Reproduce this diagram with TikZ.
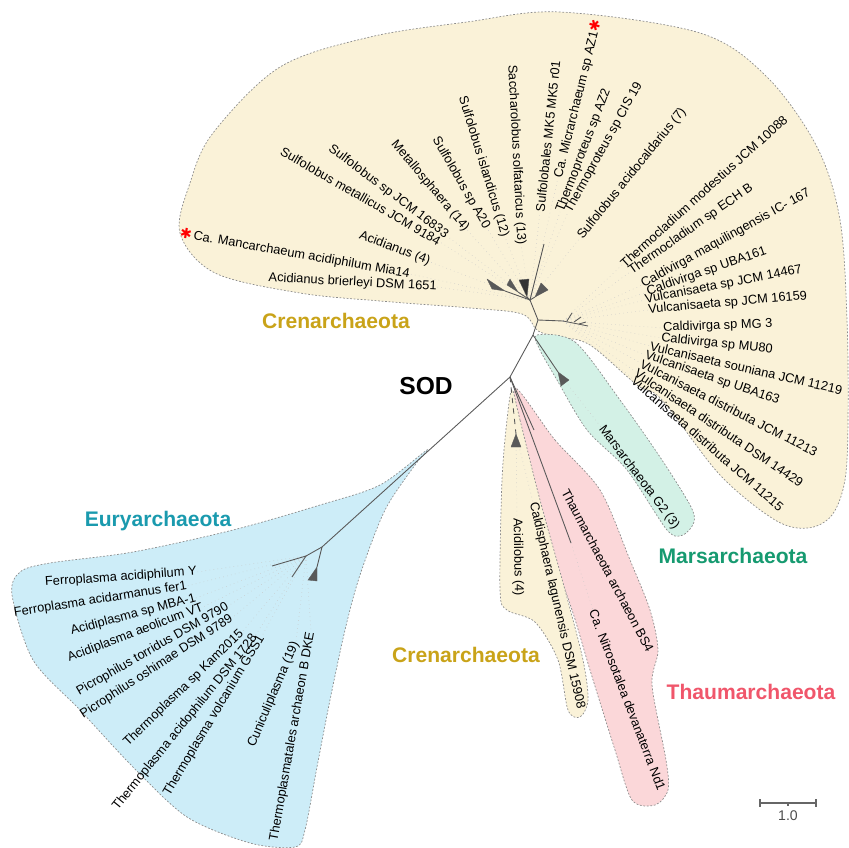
\documentclass[tikz,border=0pt]{standalone}
\usepackage{fontspec}
\setmainfont{Liberation Sans}
\newfontfamily\starfont{DejaVu Sans}
\usepackage{xcolor}
\usetikzlibrary{positioning}

\definecolor{creFill}{HTML}{FAF2D8}
\definecolor{marsFill}{HTML}{D3F1E6}
\definecolor{thaFill}{HTML}{FBD7D9}
\definecolor{euFill}{HTML}{CDEDF8}
\definecolor{creCol}{HTML}{C9A319}
\definecolor{euCol}{HTML}{1A9AAE}
\definecolor{marsCol}{HTML}{169A70}
\definecolor{thaCol}{HTML}{F0566B}
\newcommand{\redstar}{\textcolor{red}{\starfont\fontsize{8}{8}\selectfont ✱}}

\begin{document}
\begin{tikzpicture}[x=0.02cm, y=-0.02cm,
	leaf/.style={font=\fontsize{7.3}{8}\selectfont, inner sep=0pt},
	leafL/.style={leaf, anchor=east},
	leafR/.style={leaf, anchor=west},
	phylum/.style={font=\fontsize{12}{14}\selectfont\bfseries, inner sep=1pt},
	branch/.style={draw=black!65, line width=0.5pt},
	leafline/.style={draw=black!22, line width=0.3pt, dotted},
	clps/.style={fill=black!65, draw=black!65, line width=0.2pt, line join=round},
	region/.style={draw=black!45, line width=0.4pt, dash pattern=on 1pt off 1pt}
]
\useasboundingbox (0,0) rectangle (849,848);

% clade backgrounds
\filldraw[region, fill=creFill] plot[smooth cycle, tension=0.55] coordinates {
	(180,233) (190,183) (213,133) (280,67) (370,37) (467,22) (560,12)
	(700,33) (767,77) (817,147) (840,220) (847,320) (848,420) (845,480)
	(832,515) (808,528) (775,520) (720,475) (662,400) (637,385) (590,345)
	(560,337) (538,331) (522,314) (470,308) (380,301) (300,293) (215,273)};
\filldraw[region, fill=marsFill] plot[smooth cycle, tension=0.5] coordinates {
	(537,335) (575,342) (620,400) (660,457) (690,505) (694,522) (683,535)
	(667,530) (627,470) (587,430) (557,380) (540,350)};
\filldraw[region, fill=thaFill] plot[smooth cycle, tension=0.5] coordinates {
	(515,388) (555,440) (600,490) (630,560) (650,610) (658,650) (652,685)
	(666,760) (668,790) (655,805) (632,800) (615,750) (590,670) (573,613)
	(548,540) (525,450)};
\filldraw[region, fill=creFill] plot[smooth cycle, tension=0.5] coordinates {
	(512,390) (520,420) (540,500) (565,590) (583,660) (588,700) (580,717)
	(568,710) (558,660) (535,622) (507,610) (500,590) (502,480) (507,420)};
\filldraw[region, fill=euFill] plot[smooth cycle, tension=0.5] coordinates {
	(427,450) (380,485) (320,505) (233,530) (133,552) (50,563) (20,572)
	(12,595) (33,660) (80,710) (133,767) (187,817) (250,843) (295,847)
	(305,830) (317,767) (330,700) (345,630) (360,575) (385,510) (415,465)};

% tree nodes
\coordinate (root) at (510,377);
\coordinate (cre) at (533,335);
\coordinate (creA) at (538,320);
\coordinate (top) at (530,300);
\coordinate (thp) at (563,321);
\coordinate (eu) at (322,547);
\coordinate (eu1) at (306,556);
\coordinate (marsT) at (558,372);
\coordinate (acT) at (516,434);
\coordinate (thaE) at (571,543);

% leaf labels
\node[leafL, rotate=-3] (lBri) at (437,287) {Acidianus brierleyi DSM 1651};
\node[leafL, rotate=-10] (lMan) at (410,274) {\redstar\,Ca. Mancarchaeum acidiphilum Mia14};
\node[leafL, rotate=-21] (lAci) at (430,262) {Acidianus (4)};
\node[leafL, rotate=-30] (lMet) at (440,242) {Sulfolobus metallicus JCM 9184};
\node[leafL, rotate=-37] (lJ16) at (447,236) {Sulfolobus sp JCM 16833};
\node[leafL, rotate=-50] (lMsp) at (467,230) {Metallosphaera (14)};
\node[leafL, rotate=-60] (lA20) at (487,228) {Sulfolobus sp A20};
\node[leafL, rotate=-73] (lIsl) at (505,237) {Sulfolobus islandicus (12)};
\node[leafL, rotate=-87] (lSol) at (521,245) {Saccharolobus solfataricus (13)};
\node[leafR, rotate=84] (lMk5) at (540,212) {Sulfolobales MK5 MK5 r01};
\node[leafR, rotate=76] (lMic) at (558,178) {Ca. Micrarchaeum sp AZ1\redstar};
\node[leafR, rotate=69] (lAz2) at (560,212) {Thermoproteus sp AZ2};
\node[leafR, rotate=61] (lCis) at (568,212) {Thermoproteus sp CIS 19};
\node[leafR, rotate=51] (lAcd) at (580,238) {Sulfolobus acidocaldarius (7)};
\node[leafR, rotate=42] (lTmo) at (622,265) {Thermocladium modestius JCM 10088};
\node[leafR, rotate=35] (lTec) at (630,272) {Thermocladium sp ECH B};
\node[leafR, rotate=29] (lCma) at (642,285) {Caldivirga maquilingensis IC- 167};
\node[leafR, rotate=19] (lCub) at (647,292) {Caldivirga sp UBA161};
\node[leafR, rotate=11] (lV14) at (645,300) {Vulcanisaeta sp JCM 14467};
\node[leafR, rotate=5] (lV16) at (648,310) {Vulcanisaeta sp JCM 16159};
\node[leafR, rotate=2] (lMg3) at (663,328) {Caldivirga sp MG 3};
\node[leafR, rotate=-6] (lMu8) at (661,338) {Caldivirga sp MU80};
\node[leafR, rotate=-13] (lVso) at (650,346) {Vulcanisaeta souniana JCM 11219};
\node[leafR, rotate=-19] (lVub) at (645,355) {Vulcanisaeta sp UBA163};
\node[leafR, rotate=-27] (lV13) at (641,363) {Vulcanisaeta distributa JCM 11213};
\node[leafR, rotate=-34] (lV29) at (636,372) {Vulcanisaeta distributa DSM 14429};
\node[leafR, rotate=-41] (lV15) at (633,379) {Vulcanisaeta distributa JCM 11215};
\node[leafR, rotate=-53] (lMars) at (601,427) {Marsarchaeota G2 (3)};
\node[leafR, rotate=-62] (lBs4) at (565,490) {Thaumarchaeota archaeon BS4};
\node[leafR, rotate=-69] (lNd1) at (593,610) {Ca. Nitrosotalea devanaterra Nd1};
\node[leafR, rotate=-89] (lAcl) at (517,518) {Acidilobus (4)};
\node[leafR, rotate=-77] (lCal) at (533,502) {Caldisphaera lagunensis DSM 15908};
\node[leafL, rotate=4] (lFac) at (197,572) {Ferroplasma acidiphilum Y};
\node[leafL, rotate=9] (lFer) at (187,586) {Ferroplasma acidarmanus fer1};
\node[leafL, rotate=15] (lMba) at (196,598) {Acidiplasma sp MBA-1};
\node[leafL, rotate=21] (lAeo) at (203,607) {Acidiplasma aeolicum VT};
\node[leafL, rotate=30] (lPto) at (228,606) {Picrophilus torridus DSM 9790};
\node[leafL, rotate=33] (lPos) at (232,618) {Picrophilus oshimae DSM 9789};
\node[leafL, rotate=44] (lKam) at (242,632) {Thermoplasma sp Kam2015};
\node[leafL, rotate=51] (lTac) at (255,636) {Thermoplasma acidophilum DSM 1728};
\node[leafL, rotate=59] (lTvo) at (262,636) {Thermoplasma volcanium GSS1};
\node[leafL, rotate=67] (lCun) at (296,642) {Cuniculiplasma (19)};
\node[leafL, rotate=80] (lDke) at (311,632) {Thermoplasmatales archaeon B DKE};

% dotted leaf lines
\foreach \n in {lBri,lMan,lAci,lMet,lJ16,lMsp,lA20,lIsl,lSol}
	\draw[leafline] (top) -- (\n.east);
\foreach \n in {lMk5,lMic,lAz2,lCis,lAcd}
	\draw[leafline] (top) -- (\n.west);
\foreach \n in {lTmo,lTec,lCma,lCub,lV14,lV16,lMg3,lMu8,lVso,lVub,lV13,lV29,lV15}
	\draw[leafline] (thp) -- (\n.west);
\foreach \n in {lFac,lFer,lMba,lAeo,lPto,lPos,lKam,lTac,lTvo,lCun,lDke}
	\draw[leafline] (eu1) -- (\n.east);
\draw[leafline] (marsT) -- (lMars.west);
\draw[leafline] (acT) -- (lAcl.west);
\draw[leafline] (acT) -- (lCal.west);
\draw[leafline] (thaE) -- (lNd1.west);

% branches
\draw[branch] (root) -- (cre) -- (creA) -- (top);
\draw[branch] (top) -- (544,244);
\draw[branch] (creA) -- (thp) -- (588,326);
\draw[branch] (567,321) -- (572,313);
\draw[branch] (574,322) -- (581,317);
\draw[branch] (579,324) -- (586,322);
\draw[branch] (cre) -- (marsT);
\draw[branch] (root) -- (eu);
\draw[branch] (eu) -- (eu1) -- (272,566);
\draw[branch] (eu1) -- (292,577);
\draw[branch] (eu) -- (317,567);
\draw[branch, dashed] (root) -- (acT);
\draw[branch] (root) -- (thaE);
\draw[branch] (root) -- (534,430);
\draw[branch] (top) -- (505,291);
\draw[branch] (top) -- (518,292);
\draw[branch] (top) -- (527,297);
\draw[branch] (top) -- (535,297);

% collapsed clades
\filldraw[clps] (505,291) -- (487,279) -- (492,289) -- cycle;
\filldraw[clps] (518,292) -- (510,279) -- (507,285) -- cycle;
\filldraw[clps, fill=black!80] (527,297) -- (519,280) -- (529,279) -- cycle;
\filldraw[clps] (535,297) -- (541,283) -- (548,290) -- cycle;
\filldraw[clps] (marsT) -- (569,380) -- (561,386) -- cycle;
\filldraw[clps] (acT) -- (511,447) -- (521,447) -- cycle;
\filldraw[clps] (317,567) -- (308,580) -- (317,581) -- cycle;

% phylum names
\node[phylum, text=creCol] (pCreT) at (336,321) {Crenarchaeota};
\node[font=\fontsize{14}{16}\selectfont\bfseries] (pSod) at (426,386) {SOD};
\node[phylum, text=euCol] (pEury) at (158,521) {Euryarchaeota};
\node[phylum, text=marsCol] (pMars) at (733,556) {Marsarchaeota};
\node[phylum, text=thaCol] (pThau) at (751,692) {Thaumarchaeota};
\node[phylum, text=creCol] (pCreB) at (466,655) {Crenarchaeota};

% scale bar
\coordinate (sbL) at (760,803);
\coordinate (sbR) at (816,803);
\coordinate (sbM) at (788,803);
\draw[black!60, line width=0.6pt] (sbL) -- (sbR);
\draw[black!60, line width=0.6pt] (sbL) ++(0,-4) -- ++(0,8);
\draw[black!60, line width=0.6pt] (sbR) ++(0,-4) -- ++(0,8);
\draw[black!60, line width=0.6pt] (sbM) -- ++(0,3);
\node[font=\fontsize{8}{9}\selectfont, text=black!70, below=4pt of sbM, inner sep=0pt] (sbT) {1.0};
\end{tikzpicture}
\end{document}
